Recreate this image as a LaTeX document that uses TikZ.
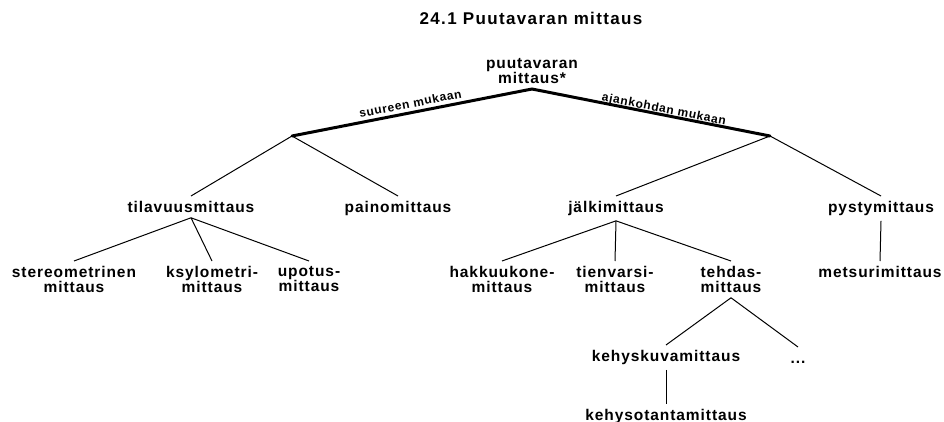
\documentclass[tikz,border=0pt]{standalone}
\usepackage{fontspec}
\setmainfont{Liberation Sans}
\newfontfamily\spaced{Liberation Sans}[LetterSpace=6]
\newfontfamily\headfont{Liberation Sans}[LetterSpace=8]
\begin{document}
\begin{tikzpicture}[x=1pt,y=-1pt,
  term/.style={font=\spaced\bfseries\fontsize{15.5}{15}\selectfont, inner sep=5pt, align=center},
  branch/.style={line width=1pt},
  mainbranch/.style={line width=3pt, line cap=round},
  crit/.style={font=\spaced\bfseries\fontsize{12}{12}\selectfont, sloped, anchor=base, inner sep=0pt}]
\useasboundingbox (0,0) rectangle (944,422);

% title
\node[font=\headfont\bfseries\fontsize{17}{17}\selectfont, anchor=base, inner sep=0pt] (title) at (531,25) {24.1 Puutavaran mittaus};

% root and its two criteria
\node[term, anchor=south] (root) at (532,89) {puutavaran\\mittaus*};
\coordinate (jL) at (292,136);
\coordinate (jR) at (770,136);
\draw[mainbranch] (jL) -- node[crit, pos=0.5, yshift=5pt] {suureen mukaan} (root.south);
\draw[mainbranch] (root.south) -- node[crit, pos=0.55, yshift=2pt] {ajankohdan mukaan} (jR);

% second level
\node[term, anchor=north] (tila)   at (191,196) {tilavuusmittaus};
\node[term, anchor=north] (paino)  at (398,196) {painomittaus};
\node[term, anchor=north] (jalki)  at (616,196) {jälkimittaus};
\node[term, anchor=north] (pysty)  at (881,196) {pystymittaus};
\draw[branch] (jL) -- (tila.north);
\draw[branch] (jL) -- (paino.north);
\draw[branch] (jR) -- (jalki.north);
\draw[branch] (jR) -- (pysty.north);

% volume measurement
\node[term, anchor=north] (stereo) at (74,261)  {stereometrinen\\mittaus};
\node[term, anchor=north] (ksylo)  at (212,261) {ksylometri-\\mittaus};
\node[term, anchor=north] (upotus) at (309,261) {upotus-\\mittaus};
\draw[branch] (tila.south) -- (stereo.north);
\draw[branch] (tila.south) -- (ksylo.north);
\draw[branch] (tila.south) -- (upotus.north);

% after-cutting measurement
\node[term, anchor=north] (hakkuu) at (502,261) {hakkuukone-\\mittaus};
\node[term, anchor=north] (tienv)  at (615,261) {tienvarsi-\\mittaus};
\node[term, anchor=north] (tehdas) at (731,261) {tehdas-\\mittaus};
\draw[branch] (jalki.south) -- (hakkuu.north);
\draw[branch] (jalki.south) -- (tienv.north);
\draw[branch] (jalki.south) -- (tehdas.north);

% standing measurement
\node[term, anchor=north] (metsuri) at (880,261) {metsurimittaus};
\draw[branch] (pysty.south) -- (metsuri.north);

% mill measurement
\node[term, anchor=north] (kuva) at (666,345) {kehyskuvamittaus};
\node[term, anchor=north, text height=11pt] (dots) at (798,347) {...};
\draw[branch] (tehdas.south) -- (kuva.north);
\draw[branch] (tehdas.south) -- (dots.north);
\node[term, anchor=north] (otanta) at (666,404) {kehysotantamittaus};
\draw[branch] (kuva.south) -- (otanta.north);
\end{tikzpicture}
\end{document}
